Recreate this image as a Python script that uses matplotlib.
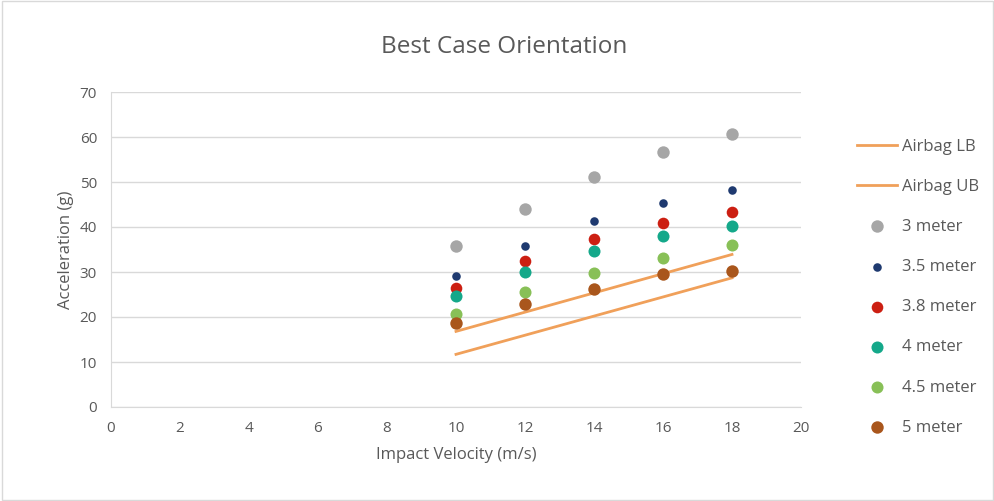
import matplotlib
matplotlib.use("Agg")
import matplotlib.pyplot as plt

plt.rcParams["font.family"] = ["Open Sans", "DejaVu Sans"]

velocity = [10, 12, 14, 16, 18]
series_names = ["3 meter", "3.5 meter", "3.8 meter", "4 meter", "4.5 meter", "5 meter"]
accel_3 = [35.8, 44.0, 51.2, 56.6, 60.6]
accel_35 = [29.1, 35.8, 41.4, 45.4, 48.3]
accel_38 = [26.4, 32.4, 37.3, 41.0, 43.3]
accel_4 = [24.6, 30.0, 34.6, 38.1, 40.3]
accel_45 = [20.6, 25.5, 29.8, 33.2, 36.0]
accel_5 = [18.6, 22.9, 26.3, 29.5, 30.3]
airbag_x = [10, 18]
airbag_lb = [16.8, 33.9]
airbag_ub = [11.7, 28.7]

colors = ["#a6a6a6", "#1f3a70", "#cc1f12", "#14a88a", "#88c057", "#a9561c"]
sizes = [80, 38, 70, 75, 75, 80]
line_color = "#f0a05a"
text_color = "#595959"

fig = plt.figure(figsize=(9.95, 5.01), dpi=100)
ax = fig.add_axes([111 / 995, (501 - 407) / 501, 690 / 995, 315 / 501])

ax.plot(airbag_x, airbag_lb, color=line_color, lw=2, label="Airbag LB")
ax.plot(airbag_x, airbag_ub, color=line_color, lw=2, label="Airbag UB")
all_series = [accel_3, accel_35, accel_38, accel_4, accel_45, accel_5]
for name, vals, c, s in zip(series_names, all_series, colors, sizes):
    ax.scatter(velocity, vals, s=s, color=c, label=name, zorder=3, linewidths=0)

ax.set_xlim(0, 20)
ax.set_ylim(0, 70)
ax.set_xticks(range(0, 21, 2))
ax.set_yticks(range(0, 71, 10))
ax.grid(axis="y", color="#d9d9d9", lw=1)
ax.set_axisbelow(True)
for side in ["top", "right"]:
    ax.spines[side].set_visible(False)
for side in ["left", "bottom"]:
    ax.spines[side].set_color("#d9d9d9")
ax.tick_params(length=0, labelsize=11, labelcolor=text_color, pad=10)

ax.set_xlabel("Impact Velocity (m/s)", fontsize=12, color=text_color, labelpad=8)
ax.set_ylabel("Acceleration (g)", fontsize=12, color=text_color, labelpad=4)
fig.text(0.507, 0.906, "Best Case Orientation", ha="center", va="center",
         fontsize=17.5, color=text_color)

leg = ax.legend(loc="upper left", bbox_to_anchor=(1.06, 0.90), frameon=False,
                fontsize=12, labelcolor=text_color, labelspacing=1.45,
                handlelength=2.4, handletextpad=0.3)

fig.patches.append(plt.Rectangle((0.002, 0.002), 0.996, 0.996, transform=fig.transFigure,
                                 fill=False, edgecolor="#d9d9d9", lw=1))

fig.savefig("out.png", dpi=100)
